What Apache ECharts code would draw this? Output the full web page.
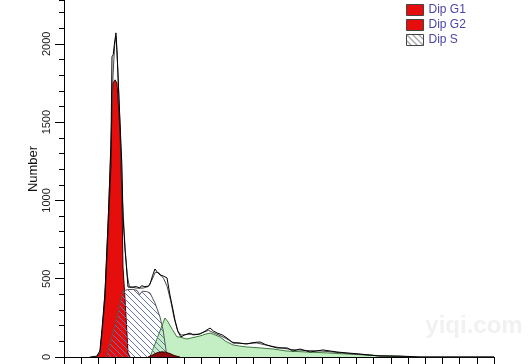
<!DOCTYPE html>
<html>
<head>
<meta charset="utf-8">
<script src="https://cdn.jsdelivr.net/npm/echarts@6/dist/echarts.min.js"></script>
<style>
html,body{margin:0;padding:0;background:#fff;}
#chart{width:529px;height:364px;}
</style>
</head>
<body>
<div id="chart"></div>
<script>
// ---- data (channel, count) ----
var g1Ch  = [19, 20.9, 22.1, 23.8, 25.6, 27.3, 27.9, 28.5, 29.2, 29.7, 30.2, 30.8, 31.7, 32.6, 33.7, 34.3, 35.5, 36.6, 37.2, 38.4];
var g1Val = [0, 26, 153, 364, 792, 1214, 1642, 1750, 1740, 1770, 1760, 1750, 1600, 1431, 1003, 575, 364, 153, 26, 0];

var g2Ch  = [48.8, 51, 53, 55, 57, 59, 61.6, 64, 67.4];
var g2Val = [0, 10, 22, 30, 33, 31, 22, 10, 0];

var sCh  = [24.5, 30, 34.3, 37, 40, 42.5, 44, 45.5, 48, 50, 52.9, 55.8, 57.6, 58.7, 59.9];
var sVal = [0, 220, 422, 430, 432, 425, 398, 420, 418, 409, 345, 256, 173, 90, 0];

var grCh  = [50, 52, 54, 56, 57.5, 58.7, 60.5, 63, 65.7, 67.4, 69.2, 71.5, 75, 79, 82, 84.9, 87, 90.7, 94, 98.3, 102, 106.4, 114, 121.5, 129.7, 141, 153, 164.5, 176, 188, 203];
var grVal = [0, 57, 114, 172, 215, 249, 224, 175, 128, 128, 121, 115, 124, 134, 145, 153, 145, 128, 100, 77, 70, 64, 58, 51, 38, 32, 26, 19, 13, 6, 0];

var dataCh  = [15, 19, 20.9, 22.1, 23.8, 25.6, 27.3, 27.9, 28.6, 29.2, 30.2, 30.8, 32, 33.7, 34.3, 35.5, 36.6, 37.2, 39, 42, 44, 45, 47, 49, 50, 51.5, 52.9, 54, 55.8, 57.6, 59.9, 61.6, 63.4, 64.5, 66.3, 68, 70, 73.3, 75, 79.1, 82, 84.9, 87, 89, 92, 94.8, 98.3, 101.2, 106.4, 110, 114, 117, 119.8, 123.8, 129.7, 133.1, 137.2, 143, 150.6, 158.7, 164.5, 172.1, 183.7, 195.3, 207, 250];
var dataVal = [0, 5, 40, 180, 400, 850, 1350, 1917, 1930, 1990, 2070, 1962, 1642, 1214, 895, 684, 537, 447, 445, 450, 440, 455, 450, 452, 465, 520, 562, 545, 524, 518, 505, 396, 300, 236, 160, 128, 140, 153, 141, 147, 165, 185, 165, 153, 141, 121, 89, 89, 83, 92, 96, 80, 70, 58, 58, 38, 51, 32, 45, 32, 26, 19, 6, 6, 0, 0];

var fitCh  = [19, 21, 22.5, 24, 26, 27.5, 28.5, 29.5, 30.2, 31, 32.5, 34, 35.5, 36.8, 38, 42, 46, 49, 51, 53, 55, 58, 60, 62, 64, 66, 68, 72, 78, 84, 88, 93, 98, 105, 112, 118, 125, 132, 140, 150, 160, 170, 182, 195, 207, 250];
var fitVal = [0, 30, 200, 450, 950, 1450, 1800, 2000, 2050, 1900, 1500, 1000, 700, 520, 450, 440, 440, 450, 490, 540, 540, 500, 450, 360, 250, 170, 140, 145, 145, 170, 150, 125, 95, 85, 90, 75, 60, 48, 42, 38, 28, 18, 8, 4, 0, 0];

var legendNames = ['Dip G1', 'Dip G2', 'Dip S'];
var yTitle = 'Number';

function pairs(xs, ys){ return xs.map(function(x, i){ return [x, ys[i]]; }); }

function hatch(size, color, bg){
  var c = document.createElement('canvas');
  c.width = size; c.height = size;
  var ctx = c.getContext('2d');
  if (bg) { ctx.fillStyle = bg; ctx.fillRect(0,0,size,size); }
  ctx.strokeStyle = color; ctx.lineWidth = 1;
  ctx.beginPath();
  ctx.moveTo(-1,-1); ctx.lineTo(size+1,size+1);
  ctx.moveTo(size-2,-2); ctx.lineTo(size+2,2);
  ctx.moveTo(-2,size-2); ctx.lineTo(2,size+2);
  ctx.stroke();
  return c;
}
var hatchImg = hatch(6, '#6474b0', null);
var hatchLegend = hatch(6, '#555', '#fff');

var chart = echarts.init(document.getElementById('chart'), null, {renderer:'canvas'});
var red = '#e60d0d';
chart.setOption({
  animation: false,
  backgroundColor: '#fff',
  grid: {left: 64, right: 35, top: 0, bottom: 7},
  legend: {
    orient: 'vertical', left: 401, top: -1, itemWidth: 17, itemHeight: 11, itemGap: 3,
    icon: 'rect', selectedMode: false,
    textStyle: {color: '#4b44a8', fontSize: 12, fontFamily: 'Liberation Sans, Arial, sans-serif', lineHeight: 12},
    data: [
      {name: legendNames[0], itemStyle: {color: red, borderColor: '#444', borderWidth: 1}},
      {name: legendNames[1], itemStyle: {color: red, borderColor: '#444', borderWidth: 1}},
      {name: legendNames[2], itemStyle: {color: {image: hatchLegend, repeat: 'repeat'}, borderColor: '#444', borderWidth: 1}}
    ]
  },
  xAxis: {
    type: 'value', min: 0, max: 250, interval: 10,
    axisLine: {show: true, lineStyle: {color: '#000', width: 1}},
    axisTick: {show: true, length: 8, lineStyle: {color: '#000'}},
    axisLabel: {show: false},
    splitLine: {show: false}
  },
  yAxis: [{
    type: 'value', min: 0, max: 2280, interval: 100, position: 'left',
    axisLine: {show: true, lineStyle: {color: '#000', width: 1}},
    axisTick: {show: true, length: 5, lineStyle: {color: '#000'}},
    axisLabel: {show: false},
    splitLine: {show: false}
  }, {
    type: 'value', min: 0, max: 2280, interval: 500, position: 'left', offset: 0,
    axisLine: {show: true, lineStyle: {color: '#000', width: 1}},
    axisTick: {show: true, length: 9, lineStyle: {color: '#000'}},
    axisLabel: {show: true, rotate: 90, margin: 12, showMaxLabel: false, color: '#222', fontSize: 11,
      fontFamily: 'Liberation Sans, Arial, sans-serif',
      formatter: function(v){ return String(v); }},
    splitLine: {show: false}
  }],
  graphic: [{
    type: 'text', x: 33, y: 169, rotation: Math.PI/2,
    style: {text: yTitle, fill: '#111', font: '13px "Liberation Sans", Arial, sans-serif', textAlign: 'center', textVerticalAlign: 'middle'}
  }, {
    type: 'text', x: 474, y: 326, z: 100,
    style: {text: 'yiqi.com', fill: 'rgba(200,200,200,0.25)', font: 'bold 24px "Liberation Sans", Arial, sans-serif', textAlign: 'center', textVerticalAlign: 'middle'}
  }],
  series: [
    {name: 'debris', type: 'line', data: pairs(grCh, grVal), symbol: 'none', z: 2,
     lineStyle: {color: '#3d7a3d', width: 1}, areaStyle: {color: '#c4efc4', opacity: 1}},
    {name: legendNames[0], type: 'line', data: pairs(g1Ch, g1Val), symbol: 'none', z: 3,
     itemStyle: {color: red}, lineStyle: {color: '#3a0000', width: 1}, areaStyle: {color: red, opacity: 1}},
    {name: legendNames[2], type: 'line', data: pairs(sCh, sVal), symbol: 'none', z: 4,
     itemStyle: {color: '#6f7db5'}, lineStyle: {color: '#555', width: 1}, areaStyle: {color: {image: hatchImg, repeat: 'repeat'}, opacity: 1}},
    {name: legendNames[1], type: 'line', data: pairs(g2Ch, g2Val), symbol: 'none', z: 5,
     itemStyle: {color: red}, lineStyle: {color: '#300', width: 1}, areaStyle: {color: '#8e0c0c', opacity: 1}},
    {name: 'fit', type: 'line', data: pairs(fitCh, fitVal), symbol: 'none', z: 6,
     lineStyle: {color: '#444', width: 1}},
    {name: 'data', type: 'line', data: pairs(dataCh, dataVal), symbol: 'none', z: 7,
     lineStyle: {color: '#000', width: 1}}
  ]
});
</script>
</body>
</html>
